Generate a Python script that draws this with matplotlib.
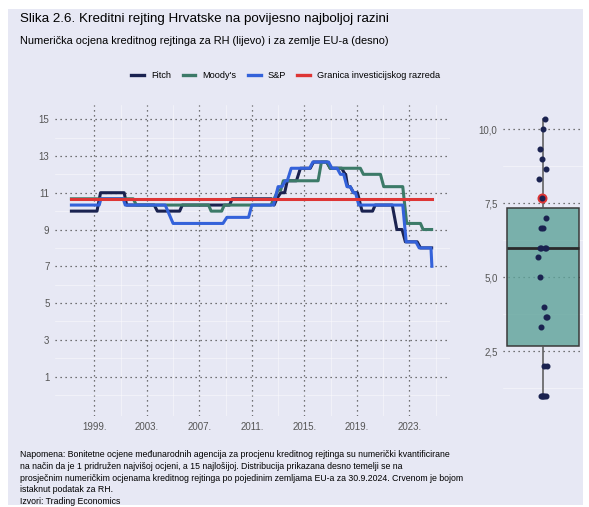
import matplotlib.pyplot as plt
from matplotlib.patches import Rectangle
from matplotlib.lines import Line2D

# rating series for Croatia (breakpoints)
fitch_t = [1997.25, 1999.2, 1999.47, 2001.27, 2001.46, 2003.56, 2003.8, 2005.5, 2005.7, 2009.3, 2009.5,
           2012.5, 2012.7, 2012.9, 2013.2, 2013.5, 2013.7, 2014.4, 2014.7, 2015.45, 2015.7, 2016.7, 2016.97,
           2017.85, 2018.1, 2018.15, 2018.3, 2018.5, 2018.75, 2019.05, 2019.4, 2020.2, 2020.4, 2021.7,
           2022.05, 2022.45, 2022.7, 2023.6, 2023.85, 2024.7]
fitch_v = [10.0, 10.0, 11.0, 11.0, 10.33, 10.33, 10.0, 10.0, 10.33, 10.33, 10.67,
           10.67, 10.33, 10.67, 11.0, 11.0, 11.65, 11.65, 12.33, 12.33, 12.67, 12.67, 12.33,
           12.33, 12.0, 12.0, 11.33, 11.33, 11.0, 11.0, 10.0, 10.0, 10.33, 10.33,
           9.0, 9.0, 8.33, 8.33, 8.0, 8.0]

moody_t = [1997.25, 2001.96, 2002.2, 2007.7, 2007.9, 2008.7, 2008.9, 2012.45, 2012.7, 2013.0, 2013.2,
           2013.4, 2016.05, 2016.3, 2016.75, 2016.97, 2019.27, 2019.5, 2020.8, 2021.05, 2022.5, 2022.8,
           2023.85, 2024.05, 2024.7]
moody_v = [10.67, 10.67, 10.33, 10.33, 10.0, 10.0, 10.33, 10.33, 10.67, 11.15, 11.15,
           11.65, 11.65, 12.67, 12.67, 12.33, 12.33, 12.0, 12.0, 11.33, 11.33, 9.33,
           9.33, 9.0, 9.0]

sp_t = [1997.25, 1999.37, 1999.5, 2001.2, 2001.35, 2004.4, 2005.0, 2008.8, 2009.1, 2010.75, 2011.0,
        2012.65, 2013.0, 2013.3, 2013.55, 2013.7, 2014.0, 2015.4, 2015.65, 2016.85, 2017.1, 2017.5,
        2017.75, 2018.0, 2018.25, 2018.5, 2018.75, 2018.9, 2019.15, 2022.5, 2022.76, 2023.5, 2023.75,
        2024.65, 2024.72]
sp_v = [10.33, 10.33, 10.67, 10.67, 10.33, 10.33, 9.33, 9.33, 9.66, 9.66, 10.33,
        10.33, 11.33, 11.33, 11.65, 11.65, 12.33, 12.33, 12.67, 12.67, 12.33, 12.33,
        12.0, 12.0, 11.33, 11.33, 11.0, 11.0, 10.33, 10.33, 8.33, 8.33, 8.0,
        8.0, 7.0]

border_t = [1997.25, 2024.72]
border_v = [10.66, 10.66]

# EU countries average rating, 30.9.2024
eu_vals = [10.33, 10.0, 9.33, 9.0, 8.67, 8.33, 7.67, 7.0, 6.67, 6.67, 6.0, 6.0, 6.0, 6.0,
           5.67, 5.0, 4.0, 3.67, 3.67, 3.33, 2.0, 2.0, 1.0, 1.0, 1.0, 1.0, 1.0]
hr_val = 7.67
jitter = [0.029, 0.0, -0.033, -0.012, 0.042, -0.046, -0.012, 0.037, -0.021, 0.004, -0.037, -0.03,
          0.029, 0.037, -0.062, -0.037, 0.012, 0.033, 0.05, -0.029, 0.017, 0.046, -0.021, -0.008,
          0.004, 0.017, 0.033]

year_ticks = [1999, 2003, 2007, 2011, 2015, 2019, 2023]
left_yticks = [1, 3, 5, 7, 9, 11, 13, 15]
right_yticks = [2.5, 5.0, 7.5, 10.0]
right_ylabels = ['2,5', '5,0', '7,5', '10,0']

bg = '#E7E8F4'
c_fitch = '#1A2250'
c_moody = '#3C7A68'
c_sp = '#3462DA'
c_red = '#DE3535'
grid_c = '#4A4A4A'

plt.rcParams['font.family'] = ['Liberation Sans', 'DejaVu Sans']

fig = plt.figure(figsize=(5.89, 5.07), dpi=100, facecolor='white')
fig.patches.append(Rectangle((8/589, 2/507), 575/589, 496/507, transform=fig.transFigure,
                             facecolor=bg, edgecolor='none', zorder=-5))

fig.text(20/589, 1-19/507, 'Slika 2.6. Kreditni rejting Hrvatske na povijesno najboljoj razini',
         fontsize=9.6, va='center', ha='left')
fig.text(20/589, 1-41/507, 'Numerička ocjena kreditnog rejtinga za RH (lijevo) i za zemlje EU-a (desno)',
         fontsize=7.9, va='center', ha='left')

ax = fig.add_axes([55/589, 1-416/507, 395/589, 311/507])
ax2 = fig.add_axes([503/589, 1-416/507, 80/589, 311/507])

for a in (ax, ax2):
    a.set_facecolor(bg)
    for s in a.spines.values():
        s.set_visible(False)
    a.tick_params(length=0, labelsize=7, labelcolor='#555555', pad=4)
    a.set_axisbelow('line')

ax.plot(fitch_t, fitch_v, color=c_fitch, lw=2.2, label='Fitch')
ax.plot(moody_t, moody_v, color=c_moody, lw=2.2, label="Moody's")
ax.plot(sp_t, sp_v, color=c_sp, lw=2.2, label='S&P')
ax.plot(border_t, border_v, color=c_red, lw=2.2, label='Granica investicijskog razreda')

ax.set_xlim(1996.0, 2026.1)
ax.set_ylim(-1.14, 15.77)
ax.set_xticks(year_ticks)
ax.set_xticklabels([f'{y}.' for y in year_ticks])
ax.set_yticks(left_yticks)
ax.set_xticks([y + 2 for y in year_ticks], minor=True)
ax.set_yticks([0, 2, 4, 6, 8, 10, 12, 14], minor=True)
ax.tick_params(which='minor', length=0)
ax.grid(True, which='major', color=grid_c, ls=(0, (1, 3)), lw=0.9)
ax.grid(True, which='minor', color='white', lw=0.5, alpha=0.6)

# box plot of EU countries (slightly see-through, like the original)
ax2.boxplot(eu_vals, positions=[0], widths=0.9, patch_artist=True, showfliers=False, zorder=2,
            boxprops=dict(facecolor=(0.37, 0.64, 0.6, 0.8), edgecolor='#3A3A3A', lw=1.1),
            medianprops=dict(color='#2A2A2A', lw=2),
            whiskerprops=dict(color='#555555', lw=1.1),
            capprops=dict(lw=0))
ax2.scatter([0 - 0.012], [hr_val], s=38, color=c_red, zorder=3)
ax2.scatter(jitter, eu_vals, s=11, color=c_fitch, zorder=4)
ax2.set_xlim(-0.5, 0.5)
ax2.set_ylim(0.31, 10.82)
ax2.set_xticks([])
ax2.set_yticks(right_yticks)
ax2.set_yticklabels(right_ylabels)
ax2.set_yticks([1.25, 3.75, 6.25, 8.75], minor=True)
ax2.tick_params(which='minor', length=0)
ax2.grid(True, axis='y', which='major', color=grid_c, ls=(0, (1, 3)), lw=0.9)
ax2.grid(True, axis='y', which='minor', color='white', lw=0.5, alpha=0.6)

handles = [Line2D([], [], color=c, lw=2.4) for c in (c_fitch, c_moody, c_sp, c_red)]
fig.legend(handles, ['Fitch', "Moody's", 'S&P', 'Granica investicijskog razreda'],
           loc='center', bbox_to_anchor=(286/589, 1-76/507), ncol=4, frameon=False,
           fontsize=6.6, handlelength=1.4, handletextpad=0.8, columnspacing=1.2)

note = ('Napomena: Bonitetne ocjene međunarodnih agencija za procjenu kreditnog rejtinga su numerički kvantificirane\n'
        'na način da je 1 pridružen najvišoj ocjeni, a 15 najlošijoj. Distribucija prikazana desno temelji se na\n'
        'prosječnim numeričkim ocjenama kreditnog rejtinga po pojedinim zemljama EU-a za 30.9.2024. Crvenom je bojom\n'
        'istaknut podatak za RH.\n'
        'Izvori: Trading Economics')
fig.text(20/589, 1-450/507, note, fontsize=6.3, va='top', ha='left', linespacing=1.4)

fig.savefig('out.png', dpi=100, facecolor='white')
